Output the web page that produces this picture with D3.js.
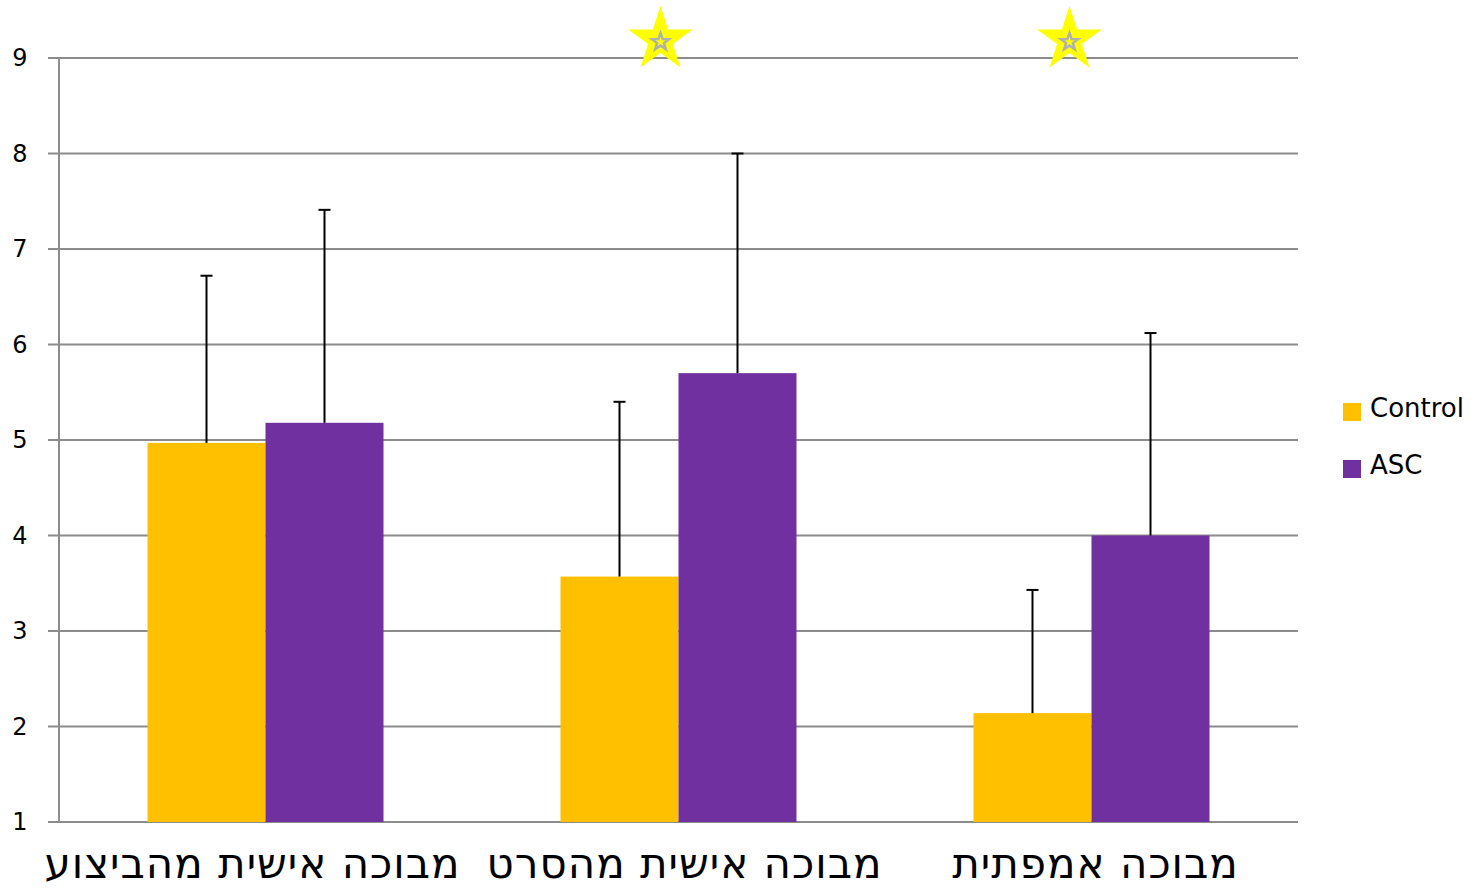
<!DOCTYPE html>
<html><head><meta charset="utf-8">
<script src="https://cdn.jsdelivr.net/npm/d3@7"></script>
<style>body{margin:0;background:#fff}svg{display:block}</style>
</head><body>
<svg id="c" width="1480" height="888"></svg>
<script>
const categories = ["מבוכה אישית מהביצוע", "מבוכה אישית מהסרט", "מבוכה אמפתית"];
const seriesNames = ["Control", "ASC"];
const controlValues = [4.97, 3.57, 2.14];
const ascValues = [5.18, 5.70, 4.00];
const controlErrTop = [6.72, 5.40, 3.43];
const ascErrTop = [7.41, 8.00, 6.12];
const yTicks = [1, 2, 3, 4, 5, 6, 7, 8, 9];
const starredCategories = [1, 2];
const colors = ["#FFC000", "#7030A0"];

const svg = d3.select("#c");
const x0 = 59, x1 = 1298, yTop = 58, yBot = 822;
const labelNudge = [-13, 6, 4];
const starNudge = [0, -18, -22];
const x = d3.scaleBand().domain(categories).range([x0, x1]).paddingInner(0).paddingOuter(0);
const y = d3.scaleLinear().domain([1, 9]).range([yBot, yTop]);
const sub = d3.scaleBand().domain(seriesNames).range([0, 236]);
const groupOff = (x.bandwidth() - 236) / 2;

// gridlines
svg.append("g").selectAll("line").data(yTicks).join("line")
  .attr("x1", x0 - 11).attr("x2", x1)
  .attr("y1", d => y(d)).attr("y2", d => y(d))
  .attr("stroke", "#8c8c8c").attr("stroke-width", 2);
svg.append("line").attr("x1", x0).attr("x2", x0).attr("y1", yTop).attr("y2", yBot)
  .attr("stroke", "#8c8c8c").attr("stroke-width", 2);

// tick labels
svg.append("g").selectAll("text").data(yTicks).join("text")
  .attr("x", 20).attr("y", d => y(d)).attr("dy", "0.35em")
  .attr("text-anchor", "middle")
  .attr("font-family", "DejaVu Sans, sans-serif").attr("font-size", 24)
  .attr("fill", "#000").text(d => d);

const data = categories.map((c, i) => ({c, vals: [
  {s: "Control", v: controlValues[i], e: controlErrTop[i], col: colors[0]},
  {s: "ASC", v: ascValues[i], e: ascErrTop[i], col: colors[1]}]}));

const g = svg.append("g").selectAll("g").data(data).join("g")
  .attr("transform", d => `translate(${x(d.c) + groupOff},0)`);
g.selectAll("rect").data(d => d.vals).join("rect")
  .attr("x", d => sub(d.s)).attr("width", sub.bandwidth())
  .attr("y", d => y(d.v)).attr("height", d => y(1) - y(d.v))
  .attr("fill", d => d.col);
g.selectAll("line.err").data(d => d.vals).join("line").attr("class", "err")
  .attr("x1", d => sub(d.s) + sub.bandwidth() / 2).attr("x2", d => sub(d.s) + sub.bandwidth() / 2)
  .attr("y1", d => y(d.v)).attr("y2", d => y(d.e))
  .attr("stroke", "#000").attr("stroke-width", 2);
g.selectAll("line.cap").data(d => d.vals).join("line").attr("class", "cap")
  .attr("x1", d => sub(d.s) + sub.bandwidth() / 2 - 6).attr("x2", d => sub(d.s) + sub.bandwidth() / 2 + 6)
  .attr("y1", d => y(d.e)).attr("y2", d => y(d.e))
  .attr("stroke", "#000").attr("stroke-width", 2);

// category labels
svg.append("g").selectAll("text").data(categories).join("text")
  .attr("x", (d, i) => x(d) + x.bandwidth() / 2 + labelNudge[i]).attr("y", 878)
  .attr("text-anchor", "middle").attr("direction", "rtl")
  .attr("font-family", "DejaVu Sans, sans-serif").attr("font-size", 42)
  .attr("letter-spacing", 1)
  .attr("fill", "#000").text(d => d);

// stars
function starPath(cx, cy, R, r) {
  const pts = [];
  for (let k = 0; k < 10; k++) {
    const a = -Math.PI / 2 + k * Math.PI / 5;
    const rr = k % 2 ? r : R;
    pts.push([cx + rr * Math.cos(a), cy + rr * Math.sin(a)]);
  }
  return "M" + pts.map(p => p.join(",")).join("L") + "Z";
}
starredCategories.forEach(i => {
  const cx = x(categories[i]) + x.bandwidth() / 2 + starNudge[i];
  svg.append("path").attr("d", starPath(cx, 40, 34, 13)).attr("fill", "#FFFF00");
  svg.append("path").attr("d", starPath(cx, 42, 9, 3.6)).attr("fill", "none")
    .attr("stroke", "#b0b0b0").attr("stroke-width", 2.5);
});

// legend
const lg = svg.append("g").selectAll("g").data(seriesNames).join("g")
  .attr("transform", (d, i) => `translate(1343,${403 + i * 57})`);
lg.append("rect").attr("width", 18).attr("height", 18).attr("fill", (d, i) => colors[i]);
lg.append("text").attr("x", 27).attr("y", 14)
  .attr("font-family", "DejaVu Sans, sans-serif").attr("font-size", 26)
  .attr("fill", "#000").text(d => d);
</script>
</body></html>
